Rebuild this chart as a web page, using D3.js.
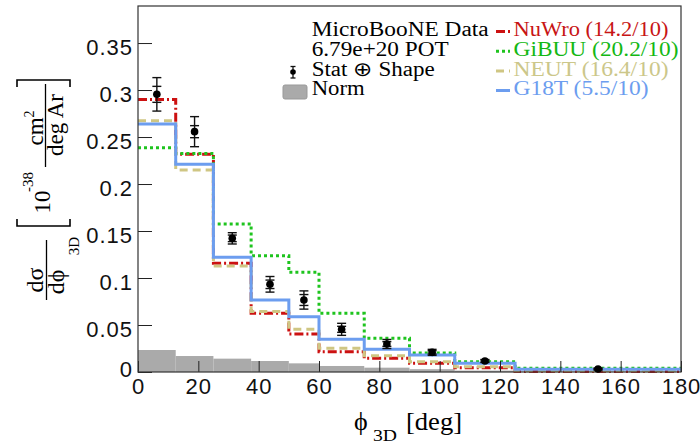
<!DOCTYPE html>
<html><head><meta charset="utf-8">
<script src="https://cdn.jsdelivr.net/npm/d3@7"></script>
<style>body{margin:0;background:#fff} svg{display:block}</style>
</head><body><svg id="c" width="700" height="443"></svg>
<script>
// ---- data ----
const binEdges = [0, 12.5, 25, 37.5, 50, 60, 75, 90, 105, 125, 180];
const dataVals = [0.2954, 0.2557, 0.1422, 0.0933, 0.0766, 0.0454, 0.0298, 0.0209, 0.0117, 0.0032];
const totErr   = [0.0178, 0.0160, 0.0060, 0.0083, 0.0097, 0.0064, 0.0048, 0.0032, 0.0016, 0.0010];
const statErr  = [0.0085, 0.0064, 0.0035, 0.0045, 0.0058, 0.0032, 0.0025, 0.0018, 0.0010, 0.0006];
const nuwro = [0.2900, 0.2316, 0.1156, 0.0624, 0.0404, 0.0216, 0.0146, 0.0092, 0.0046, 0.0006];
const gibuu = [0.2386, 0.2326, 0.1574, 0.1237, 0.1060, 0.0624, 0.0358, 0.0202, 0.0110, 0.0039];
const neut  = [0.2674, 0.2149, 0.1128, 0.0645, 0.0454, 0.0252, 0.0174, 0.0110, 0.0056, 0.0012];
const g18t  = [0.2638, 0.2210, 0.1220, 0.0766, 0.0589, 0.0348, 0.0241, 0.0180, 0.0092, 0.0029];
const normUnc = [0.0234, 0.0170, 0.0142, 0.0117, 0.0092, 0.0064, 0.0046, 0.0030, 0.0015, 0.0005];
const xTicks = [0, 20, 40, 60, 80, 100, 120, 140, 160, 180];
const yTicks = [0, 0.05, 0.1, 0.15, 0.2, 0.25, 0.3, 0.35];
const yTickLabels = ["0", "0.05", "0.1", "0.15", "0.2", "0.25", "0.3", "0.35"];
const legendLeft = ["MicroBooNE Data", "6.79e+20 POT", "Stat \u2295 Shape", "Norm"];
const modelNames = ["NuWro (14.2/10)", "GiBUU (20.2/10)", "NEUT (16.4/10)", "G18T (5.5/10)"];

// ---- styles ----
const models = [
  {vals: nuwro, color: "#cc1111", text: "#c81414", dash: "9,3,2,3", w: 3},
  {vals: gibuu, color: "#1ec41e", text: "#14b814", dash: "3,3", w: 3},
  {vals: neut,  color: "#cfc683", text: "#ccc78a", dash: "8,5", w: 3},
  {vals: g18t,  color: "#6c9def", text: "#6c9def", dash: null, w: 3}
];

const svg = d3.select("#c");
const L = 138, R = 681, T = 6, B = 372;
const x = d3.scaleLinear().domain([0, 180]).range([L, R]);
const y = d3.scaleLinear().domain([0, 0.3894]).range([B, T]);

const bins = dataVals.map((v, i) => ({i, x0: binEdges[i], x1: binEdges[i + 1], xc: (binEdges[i] + binEdges[i + 1]) / 2}));

// norm bars
svg.append("g").selectAll("rect").data(bins).join("rect")
  .attr("x", d => x(d.x0)).attr("width", d => x(d.x1) - x(d.x0))
  .attr("y", d => y(normUnc[d.i])).attr("height", d => y(0) - y(normUnc[d.i]))
  .attr("fill", "#aaaaaa");

// model step lines
const stepLine = d3.line().x(d => x(d[0])).y(d => y(d[1])).curve(d3.curveStepAfter);
models.forEach(m => {
  const pts = binEdges.map((e, i) => [e, m.vals[Math.min(i, m.vals.length - 1)]]);
  svg.append("path").attr("d", stepLine(pts)).attr("fill", "none")
    .attr("stroke", m.color).attr("stroke-width", m.w)
    .attr("stroke-dasharray", m.dash);
});

// axes
const yAxis = d3.axisLeft(y).tickValues(yTicks).tickSize(-14).tickPadding(5)
  .tickFormat((d, i) => yTickLabels[i]);
const gy = svg.append("g").attr("transform", `translate(${L},0)`).call(yAxis);
const xAxis = d3.axisBottom(x).tickValues(xTicks).tickSize(-11).tickPadding(6);
const gx = svg.append("g").attr("transform", `translate(0,${B})`).call(xAxis);
[gx, gy].forEach(g => {
  g.select(".domain").remove();
  g.selectAll("line").attr("stroke", "#222").attr("stroke-width", 1);
  g.selectAll("text").attr("font-family", "'Liberation Sans', Arial, sans-serif")
    .attr("font-size", 22).attr("fill", "#111").attr("letter-spacing", "1px");
});
gy.selectAll("text").attr("dy", (d) => d === 0 ? "0.2em" : "0.5em");

// frame
svg.append("rect").attr("x", L).attr("y", T).attr("width", R - L).attr("height", B - T)
  .attr("fill", "none").attr("stroke", "#333").attr("stroke-width", 1.2);

// data points
const gd = svg.append("g");
bins.forEach(b => {
  const cx = x(b.xc), v = dataVals[b.i];
  const yt = y(v + totErr[b.i]), yb = y(v - totErr[b.i]);
  gd.append("line").attr("x1", cx).attr("x2", cx).attr("y1", yt).attr("y2", yb)
    .attr("stroke", "#111").attr("stroke-width", 1.4);
  [v + totErr[b.i], v - totErr[b.i], v + statErr[b.i], v - statErr[b.i]].forEach(c => {
    gd.append("line").attr("x1", cx - 4.5).attr("x2", cx + 4.5).attr("y1", y(c)).attr("y2", y(c))
      .attr("stroke", "#111").attr("stroke-width", 1.4);
  });
  gd.append("circle").attr("cx", cx).attr("cy", y(v)).attr("r", 3.8).attr("fill", "#000");
});

// legend
const serif = "'Liberation Serif', 'Times New Roman', serif";
const leftLens = [177, 137, 123, 53];
const rowsY = [36, 55.7, 75.5, 95];
const lg = svg.append("g");
legendLeft.forEach((t, i) => {
  lg.append("text").attr("x", 311.7).attr("y", rowsY[i]).text(t)
    .attr("font-family", serif).attr("font-size", 20).attr("fill", "#000")
    .attr("textLength", leftLens[i]).attr("lengthAdjust", "spacingAndGlyphs");
});
// data marker
lg.append("line").attr("x1", 293).attr("x2", 293).attr("y1", 66.5).attr("y2", 78).attr("stroke", "#111").attr("stroke-width", 1.3);
[66.5, 78].forEach(yy => lg.append("line").attr("x1", 290.5).attr("x2", 295.5).attr("y1", yy).attr("y2", yy).attr("stroke", "#111").attr("stroke-width", 1.3));
lg.append("circle").attr("cx", 293).attr("cy", 72).attr("r", 2.8).attr("fill", "#000");
// norm box
lg.append("rect").attr("x", 283).attr("y", 85).attr("width", 24).attr("height", 14).attr("rx", 2)
  .attr("fill", "#aaaaaa").attr("stroke", "#999").attr("stroke-width", 1);
const rightLens = [155, 165, 155, 135];
modelNames.forEach((t, i) => {
  const m = models[i];
  const ly = rowsY[i] - 4.5;
  lg.append("line").attr("x1", 496).attr("x2", 510).attr("y1", ly).attr("y2", ly)
    .attr("stroke", m.color).attr("stroke-width", m.w).attr("stroke-dasharray", m.dash);
  lg.append("text").attr("x", 513.5).attr("y", rowsY[i]).text(t)
    .attr("font-family", serif).attr("font-size", 20).attr("fill", m.text)
    .attr("textLength", rightLens[i]).attr("lengthAdjust", "spacingAndGlyphs");
});

// x-axis title
const PHI = "\u03D5";
svg.append("text").attr("x", 354).attr("y", 430).attr("font-family", serif).attr("font-size", 26)
  .attr("fill", "#000").text(PHI);
svg.append("text").attr("x", 373).attr("y", 441).attr("font-family", serif).attr("font-size", 16)
  .attr("fill", "#000").attr("textLength", 24).attr("lengthAdjust", "spacingAndGlyphs").text("3D");
svg.append("text").attr("x", 406).attr("y", 430).attr("font-family", serif).attr("font-size", 25)
  .attr("fill", "#000").attr("textLength", 56).attr("lengthAdjust", "spacingAndGlyphs").text("[deg]");

// y-axis title (rotated pieces)
function rot(t, X, Y, size) {
  return svg.append("text").attr("transform", `translate(${X},${Y}) rotate(-90)`)
    .attr("text-anchor", "middle").attr("font-family", serif).attr("font-size", size)
    .attr("fill", "#000").text(t);
}
rot("d\u03C3", 43, 280, 24);
svg.append("line").attr("x1", 46.5).attr("x2", 46.5).attr("y1", 240).attr("y2", 300).attr("stroke", "#000").attr("stroke-width", 1.3);
rot("d" + PHI, 64, 282, 24);
rot("3D", 79, 246, 15);
svg.append("path").attr("d", "M17,219 L17,226 L70,226 L70,219").attr("fill", "none").attr("stroke", "#000").attr("stroke-width", 1.6);
rot("10", 50, 202, 23);
rot("-38", 33, 182, 15);
const cm = rot("cm", 43, 128, 23);
cm.append("tspan").attr("font-size", 14).attr("dy", -9).text("2");
svg.append("line").attr("x1", 45.5).attr("x2", 45.5).attr("y1", 84).attr("y2", 167).attr("stroke", "#000").attr("stroke-width", 1.3);
rot("deg Ar", 63, 125, 23);
svg.append("path").attr("d", "M17,87 L17,80 L70,80 L70,87").attr("fill", "none").attr("stroke", "#000").attr("stroke-width", 1.6);
</script></body></html>
